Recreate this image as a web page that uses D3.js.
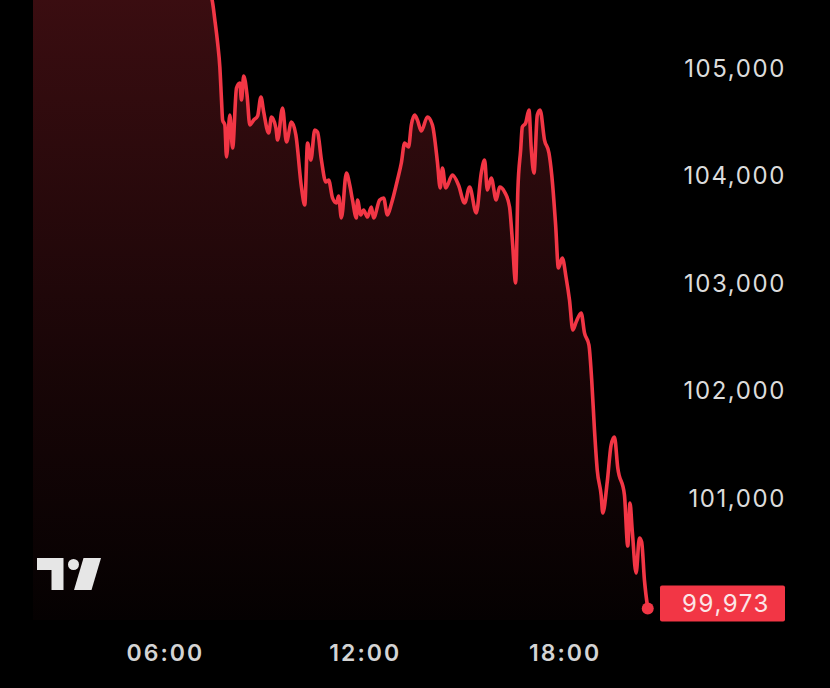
<!DOCTYPE html>
<html>
<head>
<meta charset="utf-8">
<script src="https://cdn.jsdelivr.net/npm/d3@7"></script>
<style>
  html, body { margin: 0; padding: 0; background: #000; }
  svg { display: block; }
</style>
</head>
<body>
<div id="chart"></div>
<script>
// time of each sample (HH:MM) and price
var times = [
  "02:00","02:45","03:40","04:30","05:25","06:20","06:55","07:10",
  "07:25","07:30","07:35","07:39","07:42","07:44","07:48","07:51","07:57","08:02",
  "08:09","08:15","08:18","08:22","08:28","08:33","08:40","08:47","08:53","08:58",
  "09:07","09:12","09:20","09:23","09:32","09:39","09:48","09:56","10:06","10:12",
  "10:17","10:23","10:30","10:35","10:42","10:50","10:55","11:02","11:09","11:13",
  "11:18","11:27","11:33","11:38","11:45","11:47","11:53","11:58","12:05","12:12",
  "12:16","12:27","12:34","12:41","12:48","12:59","13:06","13:12","13:19","13:24",
  "13:30","13:35","13:42","13:53","14:02","14:11","14:16","14:20","14:26","14:38",
  "14:49","15:00","15:09","15:21","15:30","15:36","15:41","15:48","15:57","16:03",
  "16:12","16:21","16:26","16:32","16:36","16:41","16:44","16:50","16:56","17:00",
  "17:05","17:11","17:16","17:24","17:32","17:37","17:44","17:49","17:56","18:03",
  "18:09","18:15","18:21","18:30","18:36","18:44","18:49","18:54","18:59","19:06",
  "19:09","19:17","19:24","19:30","19:36","19:48","19:54","19:58","20:02","20:09",
  "20:15","20:19","20:24","20:30"
];
var prices = [
  106400,106250,106500,106300,106450,106200,106050,105800,
  105633,105447,105233,105009,104702,104516,104470,104172,104563,104256,
  104814,104860,104702,104926,104749,104470,104516,104553,104730,104591,
  104395,104544,104442,104330,104628,104312,104498,104377,103893,103726,
  104302,104144,104423,104405,104144,103940,103958,103791,103744,103809,
  103605,104023,103912,103772,103605,103772,103633,103679,103614,103707,
  103605,103772,103791,103633,103735,103958,104116,104302,104265,104470,
  104563,104516,104414,104544,104470,104126,103884,104070,103884,104005,
  103912,103744,103893,103651,104023,104144,103865,103977,103772,103893,
  103847,103707,103400,103000,103865,104237,104451,104488,104609,104256,
  104023,104563,104609,104330,104209,104005,103540,103140,103233,103047,
  102842,102563,102637,102721,102535,102423,102098,101633,101260,101028,
  100860,101149,101493,101567,101279,101028,100553,100953,100702,100302,
  100628,100591,100237,99973
];
var priceTicks = [101000, 102000, 103000, 104000, 105000];
var timeTicks = ["06:00", "12:00", "18:00"];
var lastPrice = 99973;

var width = 830, height = 688;
var red = "#f23645";
var parseTime = d3.timeParse("%H:%M");

var data = times.map(function(t, i) {
    return { date: parseTime(t), price: prices[i] };
});

var x = d3.scaleTime()
    .domain([parseTime("02:00"), parseTime("21:00")])
    .range([31.7, 664.4]);

var y = d3.scaleLinear()
    .domain([100000, 105000])
    .range([605.5, 68]);

var svg = d3.select("#chart")
    .append("svg")
    .attr("width", width)
    .attr("height", height)
    .style("background", "#000");

var defs = svg.append("defs");

var grad = defs.append("linearGradient")
    .attr("id", "areaFill")
    .attr("gradientUnits", "userSpaceOnUse")
    .attr("x1", 0).attr("y1", 0)
    .attr("x2", 0).attr("y2", 620);
grad.append("stop").attr("offset", "0%").attr("stop-color", red).attr("stop-opacity", 0.24);
grad.append("stop").attr("offset", "60%").attr("stop-color", red).attr("stop-opacity", 0.10);
grad.append("stop").attr("offset", "100%").attr("stop-color", red).attr("stop-opacity", 0.02);

defs.append("clipPath")
    .attr("id", "plotClip")
    .append("rect")
    .attr("x", 33).attr("y", 0)
    .attr("width", 640).attr("height", 620);

var plot = svg.append("g").attr("clip-path", "url(#plotClip)");

var area = d3.area()
    .x(function(d) { return x(d.date); })
    .y0(620)
    .y1(function(d) { return y(d.price); })
    .curve(d3.curveMonotoneX);

var line = d3.line()
    .x(function(d) { return x(d.date); })
    .y(function(d) { return y(d.price); })
    .curve(d3.curveMonotoneX);

plot.append("path")
    .datum(data)
    .attr("fill", "url(#areaFill)")
    .attr("d", area);

// TradingView logo
var logo = svg.append("g").attr("fill", "#e6e6e6");
logo.append("path").attr("d", "M37,558 H63.5 V590 H51.5 V570 H37 Z");
logo.append("circle").attr("cx", 73.5).attr("cy", 564.5).attr("r", 5.5);
logo.append("path").attr("d", "M83.5,558 H101 L91.5,590 H74 Z");

plot.append("path")
    .datum(data)
    .attr("fill", "none")
    .attr("stroke", red)
    .attr("stroke-width", 3.6)
    .attr("stroke-linejoin", "round")
    .attr("stroke-linecap", "round")
    .attr("d", line);

var last = data[data.length - 1];
svg.append("circle")
    .attr("cx", x(last.date))
    .attr("cy", y(last.price))
    .attr("r", 6)
    .attr("fill", red);

// price axis
var yAxis = svg.append("g")
    .attr("transform", "translate(786,0)")
    .call(d3.axisLeft(y).tickValues(priceTicks).tickFormat(d3.format(",")).tickSize(0).tickPadding(0));
yAxis.select(".domain").remove();
yAxis.selectAll("text")
    .attr("fill", "#dcdcdc")
    .attr("dy", "0.35em")
    .style("font-family", "Inter, 'Noto Sans', sans-serif")
    .style("font-size", "24px")
    .style("letter-spacing", "1.6px")
    .style("font-weight", 400);

// last price label
svg.append("rect")
    .attr("x", 660).attr("y", y(lastPrice) - 23)
    .attr("width", 125).attr("height", 36)
    .attr("rx", 2)
    .attr("fill", red);
svg.append("text")
    .attr("x", 726).attr("y", y(lastPrice) - 5)
    .attr("dy", "0.35em")
    .attr("text-anchor", "middle")
    .attr("fill", "#fbe6e8")
    .style("font-family", "Inter, 'Noto Sans', sans-serif")
    .style("font-size", "24px")
    .style("letter-spacing", "1.6px")
    .text(d3.format(",")(lastPrice));

// time axis
var xAxis = svg.append("g")
    .attr("transform", "translate(0,640)")
    .call(d3.axisBottom(x).tickValues(timeTicks.map(parseTime)).tickFormat(d3.timeFormat("%H:%M")).tickSize(0).tickPadding(0));
xAxis.select(".domain").remove();
xAxis.selectAll("text")
    .attr("fill", "#d4d4d4")
    .attr("dy", "0.35em")
    .attr("y", 13)
    .style("font-family", "Inter, 'Noto Sans', sans-serif")
    .style("font-size", "23px")
    .style("letter-spacing", "2px")
    .style("font-weight", 600);
</script>
</body>
</html>
